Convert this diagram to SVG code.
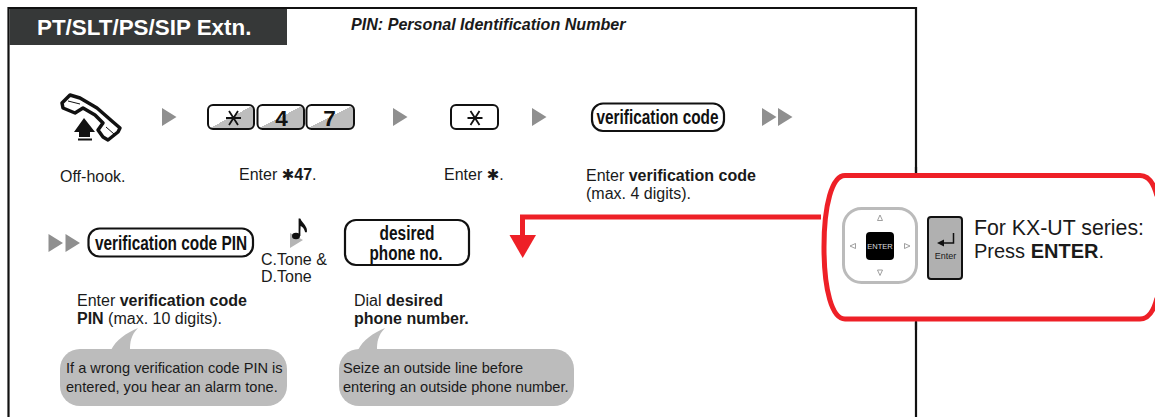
<svg xmlns="http://www.w3.org/2000/svg" width="1155" height="417" viewBox="0 0 1155 417">
<style>
text{font-family:"Liberation Sans",Arial,sans-serif;fill:#1a1a1a}
.l{font-size:16px}
.b{font-weight:bold}
.kt{font-size:22.500px;font-weight:bold;text-anchor:middle;fill:#111}
.st{font-family:"DejaVu Sans",sans-serif;font-size:15px;font-weight:bold}
.key{stroke:#111;stroke-width:2}
.pill{fill:#fff;stroke:#111;stroke-width:2.200}
.pt{font-size:20px;font-weight:bold;fill:#111}
.tri{fill:#8f8f8f}
.bub{fill:#bcbcbc}
.bt{font-size:14.600px}
.nav{fill:none;stroke:#888;stroke-width:.8}
</style>
<defs>
<linearGradient id="kg" x1="0" y1="0" x2="1" y2="1">
<stop offset=".5" stop-color="#fff"/><stop offset=".5" stop-color="#bdbdbd"/>
</linearGradient>
<path id="t" class="tri" d="M0 0L14.500 9L0 18Z"/>
<g id="star" stroke="#111" stroke-width="1.800" fill="none"><path d="M-7.500 0H7.500M-4.500 -7L4.500 7M4.500 -7L-4.500 7"/></g>
</defs>

<g id="frame">
<path d="M8.500 417V8H916V417" fill="none" stroke="#111" stroke-width="2.200"/>
</g>
<g id="header">
<rect x="9.500" y="9" width="277.500" height="36" fill="#363838"/>
<text x="37" y="35" font-size="22.400" font-weight="bold" style="fill:#fff">PT/SLT/PS/SIP Extn.</text>
</g>
<text id="pin-note" x="351" y="30" font-size="16.100" font-weight="bold" font-style="italic">PIN: Personal Identification Number</text>

<g id="connectors">
<use href="#t" x="162" y="108"/>
<use href="#t" x="393" y="108"/>
<use href="#t" x="532" y="108"/>
<use href="#t" x="762" y="108"/>
<use href="#t" x="778" y="108"/>
<use href="#t" x="48.500" y="234"/>
<use href="#t" x="65.500" y="234"/>
<path d="M821 217H522.500V238" fill="none" stroke="#ee2027" stroke-width="5"/>
<path d="M509.500 235H536L522.700 258Z" fill="#ee2027"/>
</g>

<g id="off-hook">
<path d="M62 103L70 95L80 98L97 108L113 122L120 128L118 132L108 140L103 137L98 130L103 123L95 115L83 108L75 113L63 108Z" fill="#fff" stroke="#111" stroke-width="3.500" stroke-linejoin="round"/>
<path d="M68 101L80 104M106 127L114 134" stroke="#111" stroke-width="1" fill="none"/>
<path d="M84 118L95 132H90V137H79V132H74Z" fill="#111"/>
<rect x="78" y="138.500" width="14" height="2" fill="#111"/>
<text class="l" x="60" y="182">Off-hook.</text>
</g>

<g id="enter-47">
<rect class="key" x="208" y="105" width="46" height="24" rx="5" fill="url(#kg)"/>
<rect class="key" x="257.500" y="105" width="46.500" height="24" rx="5" fill="url(#kg)"/>
<rect class="key" x="306.500" y="105" width="47.500" height="24" rx="5" fill="url(#kg)"/>
<use href="#star" x="233.500" y="118"/>
<text class="kt" x="281.500" y="126">4</text>
<text class="kt" x="329.500" y="126">7</text>
<text class="l" x="239" y="180">Enter <tspan class="st">✱</tspan><tspan class="b">47</tspan>.</text>
</g>

<g id="enter-star">
<rect class="key" x="451" y="105" width="47" height="24" rx="5" fill="#fff"/>
<use href="#star" x="475" y="118"/>
<text class="l" x="444" y="180">Enter <tspan class="st">✱</tspan>.</text>
</g>

<g id="verification-code">
<rect class="pill" x="592" y="103.500" width="132" height="27.500" rx="11"/>
<text class="pt" x="596.500" y="124" textLength="122" lengthAdjust="spacingAndGlyphs">verification code</text>
<text class="l" x="586" y="181">Enter <tspan class="b">verification code</tspan></text>
<text class="l" x="586" y="199">(max. 4 digits).</text>
</g>

<g id="verification-pin">
<rect class="pill" x="88.500" y="228.500" width="164.500" height="28" rx="11"/>
<text class="pt" x="95" y="250" textLength="152" lengthAdjust="spacingAndGlyphs">verification code PIN</text>
<text class="l" x="77" y="306">Enter <tspan class="b">verification code</tspan></text>
<text class="l" x="77" y="324"><tspan class="b">PIN</tspan> (max. 10 digits).</text>
</g>

<g id="tone">
<path d="M290 233L303 240L290 248Z" fill="#b5b5b5"/>
<ellipse cx="296" cy="236" rx="4" ry="3.200" fill="#111"/>
<path d="M299.500 236V218.500C300 223 307 225 306 232C305 228 303 226 300.500 225" fill="#111" stroke="#111" stroke-width="1.800"/>
<text class="l" x="261" y="265">C.Tone &amp;</text>
<text class="l" x="261" y="282">D.Tone</text>
</g>

<g id="desired-phone">
<rect class="pill" x="345" y="220" width="124" height="45" rx="11"/>
<text class="pt" x="407" y="240" text-anchor="middle" textLength="55" lengthAdjust="spacingAndGlyphs">desired</text>
<text class="pt" x="406" y="260" text-anchor="middle" textLength="73" lengthAdjust="spacingAndGlyphs">phone no.</text>
<text class="l" x="354" y="306">Dial <tspan class="b">desired</tspan></text>
<text class="l b" x="354" y="324">phone number.</text>
</g>

<g id="bubble-alarm">
<path class="bub" d="M111 350C116 340 126 333 138 328C131 335 130 342 130 350Z"/>
<rect class="bub" x="60" y="349" width="227" height="57" rx="20"/>
<text class="bt" x="66" y="373">If a wrong verification code PIN is</text>
<text class="bt" x="66" y="391.500">entered, you hear an alarm tone.</text>
</g>

<g id="bubble-seize">
<path class="bub" d="M358 350C363 340 373 333 385 328C378 335 377 342 377 350Z"/>
<rect class="bub" x="339" y="349" width="235" height="57" rx="20"/>
<text class="bt" x="343" y="373">Seize an outside line before</text>
<text class="bt" x="343" y="391.500">entering an outside phone number.</text>
</g>

<g id="ut-callout">
<path d="M1157 196C1154 184 1149 175.500 1140 175.500H845C832 175.500 824 205 824 247C824 290 832 319 845 319H1140C1149 319 1154 310 1157 298" fill="#fff" stroke="#ee2027" stroke-width="5"/>
<path d="M916 167V173M916 322V330" stroke="#111" stroke-width="2.200"/>
<rect x="843.500" y="208.500" width="73" height="74" rx="18" fill="#fff" stroke="#bbb" stroke-width="3"/>
<rect x="866" y="232" width="28" height="28" rx="4" fill="#000"/>
<text x="880" y="249" font-size="7.500" text-anchor="middle" style="fill:#ddd">ENTER</text>
<path class="nav" d="M880 215L882.500 220.500H877.500ZM880 275.500L882.500 270H877.500ZM850 246L855.500 243.500V248.500ZM910 246L904.500 243.500V248.500Z"/>
<rect x="928" y="217" width="34" height="62" rx="3" fill="#b0b0b0" stroke="#111" stroke-width="2"/>
<path d="M953.500 233V243H942" fill="none" stroke="#111" stroke-width="1.500"/>
<path d="M937 243L944 239.500V246.500Z" fill="#111"/>
<text x="945.500" y="259" font-size="9" text-anchor="middle">Enter</text>
<text x="974" y="235" font-size="21.300">For KX-UT series:</text>
<text x="974" y="258" font-size="20">Press <tspan class="b">ENTER</tspan>.</text>
</g>
</svg>
